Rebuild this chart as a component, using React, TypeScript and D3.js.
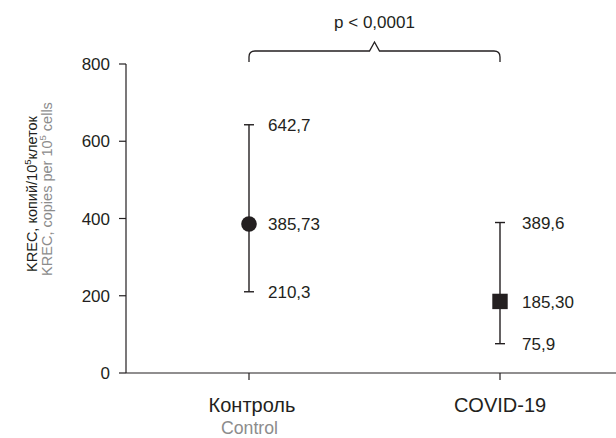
import React from "react";
import * as d3 from "d3";

const groups = ["Контроль", "COVID-19"];
const groupsEn = ["Control", ""];
const means = [385.73, 185.3];
const upper = [642.7, 389.6];
const lower = [210.3, 75.9];
const meanLabels = ["385,73", "185,30"];
const upperLabels = ["642,7", "389,6"];
const lowerLabels = ["210,3", "75,9"];
const yTicks = [0, 200, 400, 600, 800];

const W = 616;
const H = 438;
const ink = "#231f20";
const grey = "#8c8c8c";
const font = "'Liberation Sans', Arial, sans-serif";

const App: React.FC = () => {
  const y = d3.scaleLinear().domain([0, 800]).range([373, 64]);
  const x = d3.scalePoint<string>().domain(groups).range([249, 500]);
  const axisX = 126;
  const axisY = y(0);

  const x0 = x(groups[0])!;
  const x1 = x(groups[1])!;
  const mid = (x0 + x1) / 2;
  const bTop = 51;
  const bBot = 62;
  const r = 6;
  const brace = [
    `M${x0},${bBot}`,
    `L${x0},${bTop + r}`,
    `Q${x0},${bTop} ${x0 + r},${bTop}`,
    `L${mid - 5},${bTop}`,
    `L${mid},${bTop - 9}`,
    `L${mid + 5},${bTop}`,
    `L${x1 - r},${bTop}`,
    `Q${x1},${bTop} ${x1},${bTop + r}`,
    `L${x1},${bBot}`,
  ].join(" ");

  const labelDx = [19, 22];
  const catDx = [3, 0];

  return (
    <svg
      width={W}
      height={H}
      style={{ position: "absolute", left: 0, top: 0, background: "#fff" }}
      fontFamily={font}
    >
      {/* y axis */}
      <line x1={axisX} x2={axisX} y1={y(800)} y2={axisY} stroke={ink} strokeWidth={1.2} />
      {yTicks.map((t) => (
        <g key={t}>
          <line x1={axisX - 7} x2={axisX} y1={y(t)} y2={y(t)} stroke={ink} strokeWidth={1.2} />
          <text x={axisX - 16} y={y(t)} dy="0.36em" textAnchor="end" fontSize={17} fill={ink}>
            {t}
          </text>
        </g>
      ))}
      {/* x axis */}
      <line x1={axisX} x2={W} y1={axisY} y2={axisY} stroke={ink} strokeWidth={1.2} />
      {groups.map((g, i) => (
        <g key={g}>
          <line x1={x(g)!} x2={x(g)!} y1={axisY} y2={axisY + 7} stroke={ink} strokeWidth={1.2} />
          <text x={x(g)! + catDx[i]} y={412} textAnchor="middle" fontSize={20} fill={ink}>
            {g}
          </text>
          {groupsEn[i] && (
            <text
              x={x(g)! + 0.5}
              y={434}
              textAnchor="middle"
              fontSize={19}
              fill={grey}
              textLength={57}
              lengthAdjust="spacingAndGlyphs"
            >
              {groupsEn[i]}
            </text>
          )}
        </g>
      ))}

      {/* y labels */}
      <text transform={`translate(37,194) rotate(-90)`} textAnchor="middle" fontSize={14.5} fill={ink}>
        KREC, копий/10<tspan fontSize={9.5} dy={-6}>5</tspan>
        <tspan dy={6}>клеток</tspan>
      </text>
      <text transform={`translate(52,189) rotate(-90)`} textAnchor="middle" fontSize={14.5} fill={grey}>
        KREC, copies per 10<tspan fontSize={9.5} dy={-6}>5</tspan>
        <tspan dy={6}> cells</tspan>
      </text>

      {/* error bars */}
      {groups.map((g, i) => {
        const cx = x(g)!;
        return (
          <g key={`bar-${g}`}>
            <line x1={cx} x2={cx} y1={y(upper[i])} y2={y(lower[i])} stroke={ink} strokeWidth={1.4} />
            <line x1={cx - 5} x2={cx + 5} y1={y(upper[i])} y2={y(upper[i])} stroke={ink} strokeWidth={1.4} />
            <line x1={cx - 5} x2={cx + 5} y1={y(lower[i])} y2={y(lower[i])} stroke={ink} strokeWidth={1.4} />
            {i === 0 ? (
              <circle cx={cx} cy={y(means[i])} r={7.8} fill={ink} />
            ) : (
              <rect x={cx - 7.7} y={y(means[i]) - 7.7} width={15.4} height={15.4} fill={ink} />
            )}
            <text x={cx + labelDx[i]} y={y(upper[i])} dy="0.36em" fontSize={17} fill={ink}>
              {upperLabels[i]}
            </text>
            <text x={cx + labelDx[i]} y={y(means[i])} dy="0.36em" fontSize={17} fill={ink}>
              {meanLabels[i]}
            </text>
            <text x={cx + labelDx[i]} y={y(lower[i])} dy="0.36em" fontSize={17} fill={ink}>
              {lowerLabels[i]}
            </text>
          </g>
        );
      })}

      {/* significance brace */}
      <path d={brace} fill="none" stroke={ink} strokeWidth={1.3} />
      <text x={mid} y={28} textAnchor="middle" fontSize={17} fill={ink}>
        p &lt; 0,0001
      </text>
    </svg>
  );
};

export default App;
